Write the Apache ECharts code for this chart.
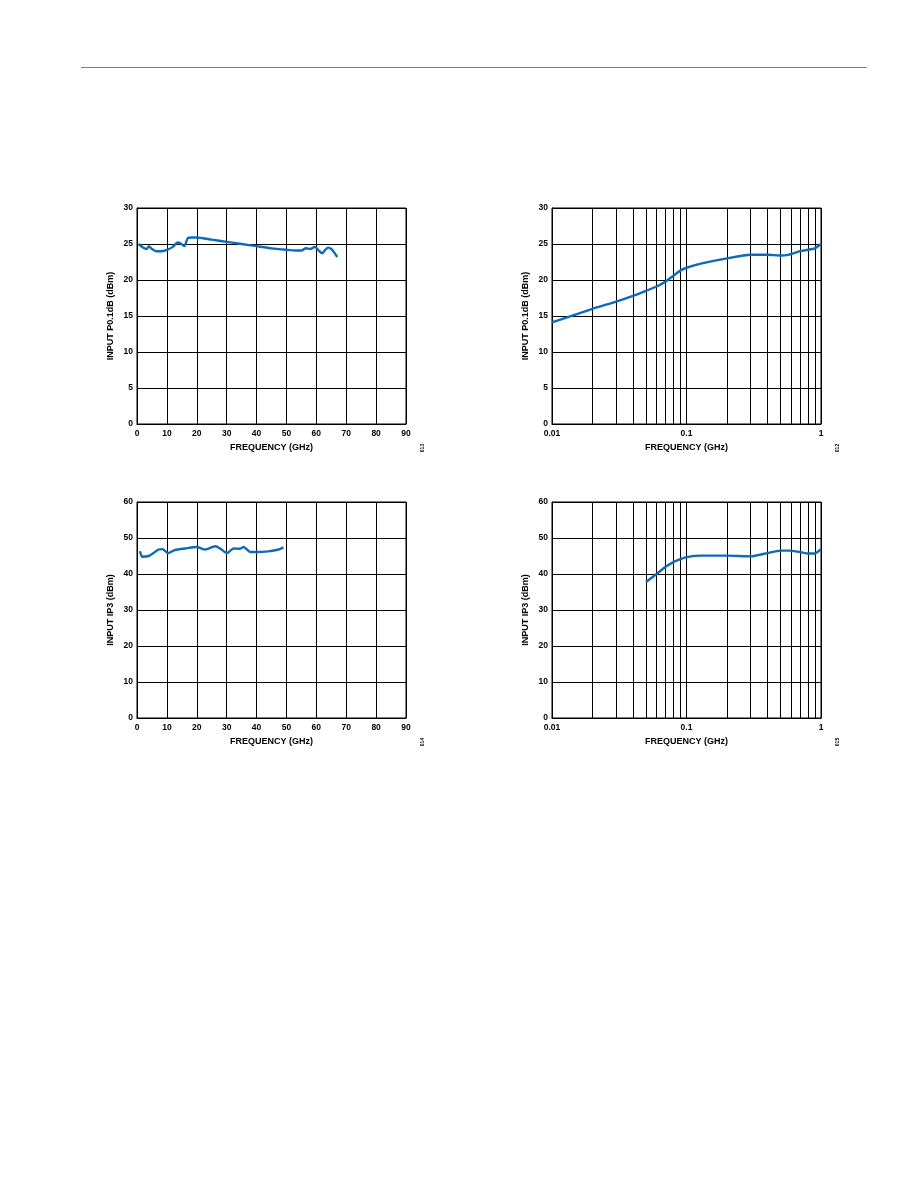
<!DOCTYPE html>
<html>
<head>
<meta charset="utf-8">
<script src="https://cdn.jsdelivr.net/npm/echarts@6/dist/echarts.min.js"></script>
<style>
html,body{margin:0;padding:0;background:#fff;}
#c{width:918px;height:1188px;}
</style>
</head>
<body>
<div id="c"></div>
<script>
// ---- Data ----
const linTicksX = [0, 10, 20, 30, 40, 50, 60, 70, 80, 90];
const logMinorX = [0.02, 0.03, 0.04, 0.05, 0.06, 0.07, 0.08, 0.09, 0.2, 0.3, 0.4, 0.5, 0.6, 0.7, 0.8, 0.9];

// Top-left: Input P0.1dB vs frequency (GHz), linear
const p1LinFreq = [0.5, 2, 3.2, 4, 5, 6.5, 8, 10, 12, 13.5, 14.5, 15.8, 17, 18.5, 20, 22, 25, 30, 35, 40, 45, 50, 53, 55, 56.5, 58, 59.5, 61, 62, 63, 64, 65, 66, 67];
const p1LinVals = [25.0, 24.5, 24.3, 24.7, 24.3, 24.0, 24.0, 24.2, 24.6, 25.2, 25.1, 24.7, 25.8, 25.9, 25.9, 25.8, 25.6, 25.3, 25.0, 24.7, 24.4, 24.2, 24.1, 24.1, 24.4, 24.3, 24.6, 24.0, 23.7, 24.2, 24.5, 24.3, 23.8, 23.2];

// Top-right: Input P0.1dB vs frequency (GHz), log
const p1LogFreq = [0.01, 0.02, 0.03, 0.04, 0.05, 0.06, 0.07, 0.08, 0.09, 0.1, 0.13, 0.2, 0.3, 0.4, 0.5, 0.57, 0.7, 0.8, 0.9, 1.0];
const p1LogVals = [14.1, 16.0, 17.0, 17.8, 18.5, 19.1, 19.8, 20.6, 21.3, 21.7, 22.3, 23.0, 23.5, 23.5, 23.4, 23.5, 24.0, 24.2, 24.4, 25.0];

// Bottom-left: Input IP3 vs frequency (GHz), linear
const ip3LinFreq = [1.0, 1.7, 3.9, 5.5, 7.2, 8.5, 10.4, 12.8, 16.2, 20, 22.8, 26.2, 27.8, 30.1, 32.3, 34.5, 35.7, 37.9, 40, 44, 47.4, 49];
const ip3LinVals = [46.3, 44.8, 45.0, 45.8, 46.8, 46.9, 45.8, 46.7, 47.1, 47.5, 46.8, 47.7, 47.1, 45.8, 47.1, 47.0, 47.5, 46.1, 46.1, 46.3, 46.8, 47.4];

// Bottom-right: Input IP3 vs frequency (GHz), log
const ip3LogFreq = [0.05, 0.06, 0.07, 0.08, 0.09, 0.1, 0.13, 0.2, 0.3, 0.4, 0.5, 0.58, 0.7, 0.8, 0.9, 1.0];
const ip3LogVals = [37.8, 40.0, 42.0, 43.3, 44.1, 44.7, 45.1, 45.1, 44.9, 45.8, 46.5, 46.5, 46.1, 45.7, 45.7, 46.9];

const sideLabels = ['013', '012', '014', '015'];
const yNames = ['INPUT P0.1dB (dBm)', 'INPUT P0.1dB (dBm)', 'INPUT IP3 (dBm)', 'INPUT IP3 (dBm)'];
const xName = 'FREQUENCY (GHz)';

// ---- Styling ----
const FONT = 'Liberation Sans, Arial, sans-serif';
const LINE_COLOR = '#0b6bb8';
const zip = (a, b) => a.map((x, i) => [x, b[i]]);

const grids = [
  {left: 137, top: 208, width: 269, height: 216},
  {left: 552, top: 208, width: 269, height: 216},
  {left: 137, top: 502, width: 269, height: 216},
  {left: 552, top: 502, width: 269, height: 216}
];

const labelStyle = {color: '#000', fontFamily: FONT, fontWeight: 'bold', fontSize: 8.5};
const nameStyle = {color: '#000', fontFamily: FONT, fontWeight: 'bold', fontSize: 9};

function xLin(i) {
  return {
    type: 'value', gridIndex: i, min: 0, max: 90, interval: 10,
    name: xName, nameLocation: 'middle', nameGap: 19, nameTextStyle: nameStyle,
    axisLine: {show: true, lineStyle: {color: '#000', width: 1}},
    axisTick: {show: false},
    axisLabel: Object.assign({margin: 5}, labelStyle),
    splitLine: {show: true, lineStyle: {color: '#000', width: 1}}
  };
}
function xLog(i) {
  return {
    type: 'log', logBase: 10, gridIndex: i, min: 0.01, max: 1,
    name: xName, nameLocation: 'middle', nameGap: 19, nameTextStyle: nameStyle,
    axisLine: {show: true, lineStyle: {color: '#000', width: 1}},
    axisTick: {show: false},
    axisLabel: Object.assign({margin: 5, formatter: v => String(+v.toPrecision(3))}, labelStyle),
    splitLine: {show: true, lineStyle: {color: '#000', width: 1}}
  };
}
function yAx(i, max, interval) {
  return {
    type: 'value', gridIndex: i, min: 0, max: max, interval: interval,
    name: yNames[i], nameLocation: 'middle', nameGap: 22, nameTextStyle: nameStyle,
    axisLine: {show: true, lineStyle: {color: '#000', width: 1}},
    axisTick: {show: false},
    axisLabel: Object.assign({margin: 4}, labelStyle),
    splitLine: {show: true, lineStyle: {color: '#000', width: 1}}
  };
}

function lineSeries(i, data, withMinor) {
  const s = {
    type: 'line', xAxisIndex: i, yAxisIndex: i, data: data,
    showSymbol: false, symbol: 'none', smooth: 0.2,
    lineStyle: {color: LINE_COLOR, width: 2.4}, z: 5
  };
  if (withMinor) {
    s.markLine = {
      silent: true, symbol: ['none', 'none'], animation: false,
      label: {show: false},
      lineStyle: {color: '#000', width: 1, type: 'solid'},
      data: logMinorX.map(v => ({xAxis: v}))
    };
  }
  return s;
}

const graphics = [
  {type: 'line', shape: {x1: 81, y1: 67.5, x2: 867, y2: 67.5}, style: {stroke: '#808080', lineWidth: 1}}
];
grids.forEach((g, i) => {
  graphics.push({
    type: 'text', x: g.left + g.width + 17, y: g.top + g.height + 24, rotation: Math.PI / 2,
    style: {text: sideLabels[i], fill: '#000', font: 'bold 5px ' + FONT, align: 'center', verticalAlign: 'middle'}
  });
});

const option = {
  animation: false,
  backgroundColor: '#fff',
  grid: grids.map(g => Object.assign({show: true, borderColor: '#000', borderWidth: 1, backgroundColor: 'transparent'}, g)),
  xAxis: [xLin(0), xLog(1), xLin(2), xLog(3)],
  yAxis: [yAx(0, 30, 5), yAx(1, 30, 5), yAx(2, 60, 10), yAx(3, 60, 10)],
  series: [
    lineSeries(0, zip(p1LinFreq, p1LinVals), false),
    lineSeries(1, zip(p1LogFreq, p1LogVals), true),
    lineSeries(2, zip(ip3LinFreq, ip3LinVals), false),
    lineSeries(3, zip(ip3LogFreq, ip3LogVals), true)
  ],
  graphic: graphics
};

const chart = echarts.init(document.getElementById('c'), null, {renderer: 'canvas'});
chart.setOption(option);
</script>
</body>
</html>
